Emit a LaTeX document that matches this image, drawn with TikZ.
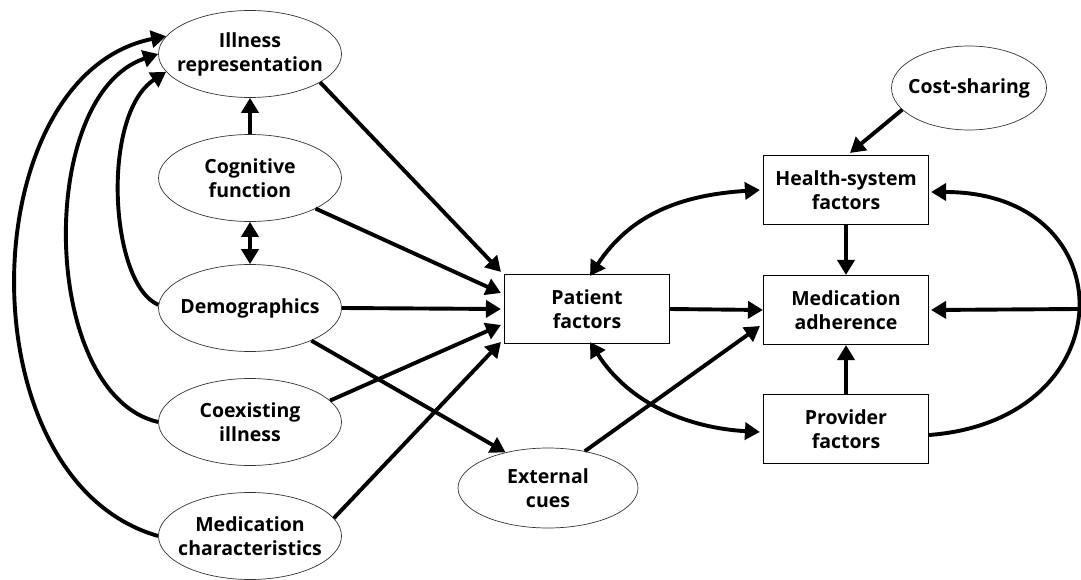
\documentclass[tikz,border=0pt]{standalone}
\usepackage{fontspec}
\setmainfont{Open Sans}
\usetikzlibrary{shapes.geometric,arrows.meta,calc}
\begin{document}
\begin{tikzpicture}[x=1pt,y=-1pt,
  lbl/.style={font=\fontsize{19.5}{24}\selectfont\bfseries, align=center, text=black},
  elps/.style={lbl, ellipse, draw=black!80, line width=0.7pt, inner xsep=-30pt, inner ysep=0pt, minimum width=183pt, minimum height=87pt},
  rbox/.style={lbl, rectangle, draw=black, line width=1.1pt, minimum width=165pt, minimum height=69pt, inner sep=0pt},
  arr/.style={line width=3.9pt, -{Triangle[length=15pt,width=17pt]}},
  darr/.style={line width=3.9pt, {Triangle[length=15pt,width=17pt]}-{Triangle[length=15pt,width=17pt]}}
]
\useasboundingbox (0,0) rectangle (1081,580);

% left column ellipses
\node[elps] (ill) at (250,54)  {Illness\\representation};
\node[elps] (cog) at (250,178) {Cognitive\\function};
\node[elps] (dem) at (250,308) {Demographics};
\node[elps] (coe) at (250,422) {Coexisting\\illness};
\node[elps] (med) at (250,536) {Medication\\characteristics};
\node[elps, minimum width=180pt, minimum height=80pt] (ext) at (548,488) {External\\cues};
\node[elps, minimum width=155pt, minimum height=84pt] (cost) at (969,88) {Cost-sharing};

% boxes
\node[rbox] (pat) at (587,309) {Patient\\factors};
\node[rbox] (hs)  at (846,190) {Health-system\\factors};
\node[rbox] (adh) at (846,310) {Medication\\adherence};
\node[rbox] (prov) at (846,429) {Provider\\factors};

% vertical links in left column
\draw[arr] (cog.north) -- (ill.south);
\draw[darr] (cog.south) -- (dem.north);

% feedback curves on the left
\draw[arr] (dem.178) .. controls (110,285) and (100,115) .. (ill.192);
\draw[arr] (coe.180) .. controls (40,395) and (35,95) .. (ill.180);
\draw[arr] (med.180) .. controls (-38,480) and (-28,75) .. (ill.168);

% into patient factors
\draw[arr] (ill.-22) -- ([xshift=-3pt,yshift=2pt]pat.north west);
\draw[arr] (cog.-25) -- ([xshift=-3pt,yshift=16pt]pat.west);
\draw[arr] (dem.east) -- ([xshift=-3pt]pat.west);
\draw[arr] (coe.15) -- ([xshift=-3pt,yshift=-16pt]pat.west);
\draw[arr] (med.12) -- ([xshift=-3pt,yshift=-33pt]pat.west);
\draw[arr] (dem.-28) -- (ext.140);

% patient to adherence etc.
\draw[arr] (pat.east) -- (adh.west);
\draw[arr] (ext.45) -- ([xshift=-3pt,yshift=-16pt]adh.west);
\draw[darr] ([xshift=3pt,yshift=-2pt]pat.north) .. controls (630,215) and (680,195) .. ([xshift=-3pt]hs.west);
\draw[darr] ([xshift=3pt,yshift=2pt]pat.south) .. controls (630,405) and (690,428) .. ([xshift=-3pt,yshift=-3pt]prov.west);

% right column
\draw[arr] (cost.198) -- ([xshift=4pt,yshift=2pt]hs.north);
\draw[arr] (hs.south) -- (adh.north);
\draw[arr] (prov.north) -- (adh.south);
\coordinate (rr) at (1078,309);
\draw[arr] ([yshift=-6pt]prov.east) .. controls (1127,420) and (1127,192) .. ([xshift=2pt,yshift=-2pt]hs.east);
\draw[arr] (rr) -- ([xshift=2pt]adh.east);
\end{tikzpicture}
\end{document}
